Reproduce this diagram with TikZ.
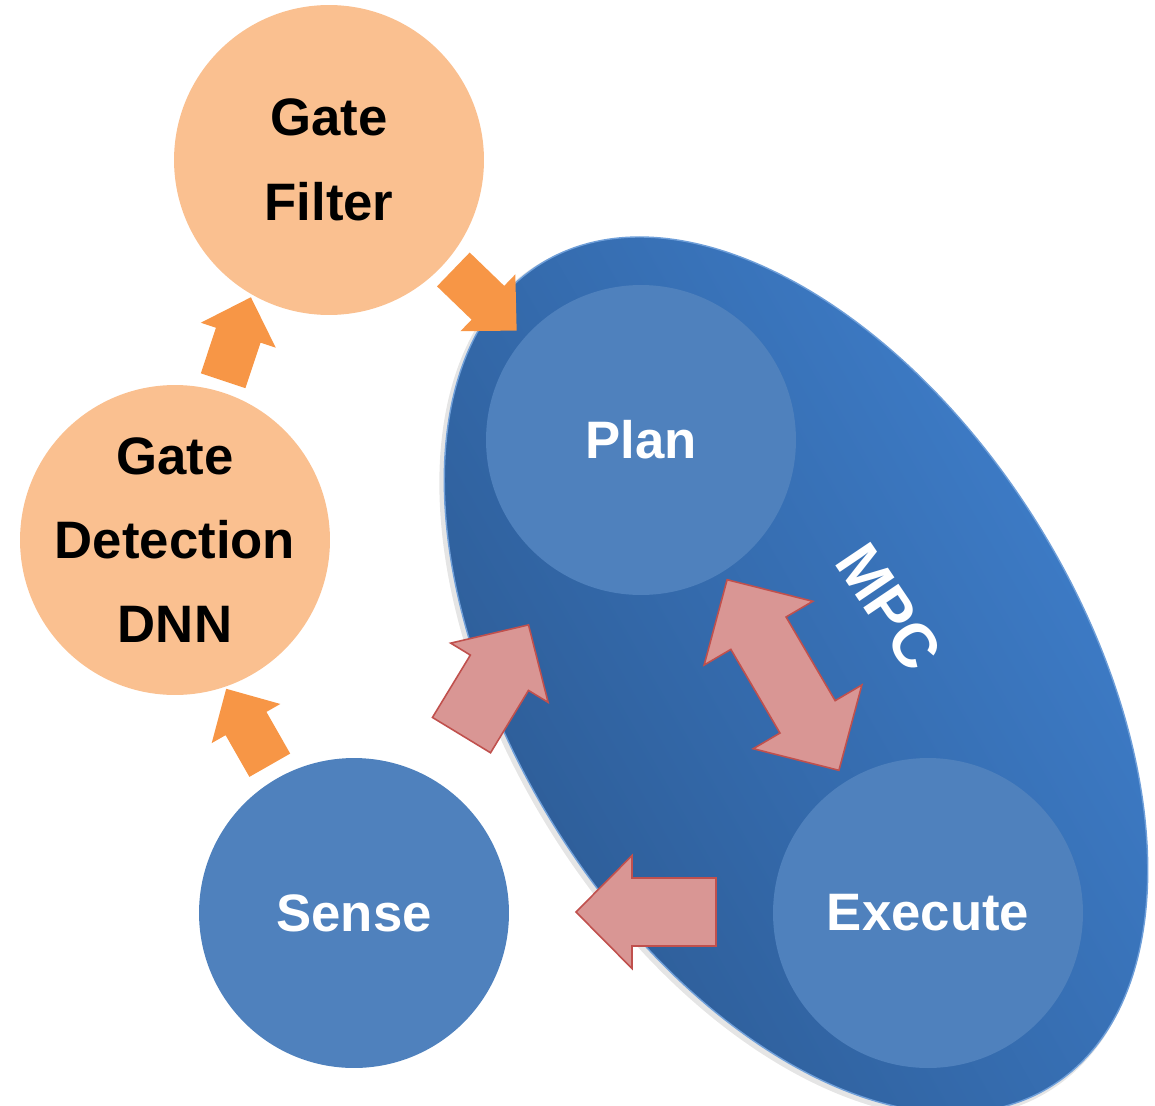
\documentclass[tikz,border=0pt]{standalone}
\usepackage{fontspec}
\setmainfont{Liberation Sans}
\usetikzlibrary{positioning}

\definecolor{gateorange}{HTML}{FAC090}
\definecolor{arroworange}{HTML}{F79646}
\definecolor{stepblue}{HTML}{4F81BD}
\definecolor{arrowpink}{HTML}{D99694}
\definecolor{arrowred}{HTML}{C0504D}
\definecolor{mpclight}{HTML}{3F7FCC}
\definecolor{mpcdark}{HTML}{2C5A93}

\begin{document}
\begin{tikzpicture}[x=0.02cm, y=-0.02cm]

   %Styles of circles and arrows
   \tikzstyle{gatestep} = [circle, minimum size=6.2cm, inner sep=-12pt, align=center, fill=gateorange, text=black, font=\bfseries\fontsize{30}{48}\selectfont]
   \tikzstyle{loopstep} = [gatestep, fill=stepblue, text=white]
   \tikzstyle{orangearrow} = [fill=arroworange]
   \tikzstyle{pinkarrow} = [fill=arrowpink, draw=arrowred, line width=0.9pt, line join=miter]
   \tikzset{
     pics/blockarrow/.style args={#1/#2/#3/#4}{code={
       \path[pic actions] (-#1/2,-#2/2) -- (#1/2-#4,-#2/2) -- (#1/2-#4,-#3/2) -- (#1/2,0)
         -- (#1/2-#4,#3/2) -- (#1/2-#4,#2/2) -- (-#1/2,#2/2) -- cycle;
     }},
     pics/doublearrow/.style args={#1/#2/#3/#4}{code={
       \path[pic actions] (-#1/2+#4,-#2/2) -- (#1/2-#4,-#2/2) -- (#1/2-#4,-#3/2) -- (#1/2,0)
         -- (#1/2-#4,#3/2) -- (#1/2-#4,#2/2) -- (-#1/2+#4,#2/2) -- (-#1/2+#4,#3/2)
         -- (-#1/2,0) -- (-#1/2+#4,-#3/2) -- cycle;
     }}
   }

   %Page size
   \clip (0,0) rectangle (1155,1105);

   %MPC ellipse with a soft shadow
   \fill[black, opacity=0.1, rotate around={-58.2:(793,678)}] (793,678) ellipse [x radius=486, y radius=287];
   \shade[rotate around={-58.2:(796,675)}, left color=mpcdark, right color=mpclight, shading angle=120, draw=mpclight!75!white, line width=0.8pt]
     (796,675) ellipse [x radius=484, y radius=285];
   \node[rotate=-56, text=white, font=\bfseries\fontsize{35}{36}\selectfont] (mpc) at (889,607) {MPC};

   %Circles
   \node[gatestep] (filter) at (329,160) {Gate\\Filter};
   \node[gatestep] (dnn) at (175,540) {Gate\\Detection\\DNN};
   \node[loopstep] (plan) at (641,440) {Plan};
   \node[loopstep] (execute) at (928,913) {Execute};
   \node[loopstep] (sense) at (354,913) {Sense};

   %Arrows
   \pic[orangearrow, rotate=71.6] at (237,339) {blockarrow=88/47/79/40};
   \pic[orangearrow, rotate=119.7] at (248,727) {blockarrow=88/47/79/40};
   \pic[orangearrow, rotate=-44] at (485,300) {blockarrow=88/47/79/40};
   \pic[pinkarrow, rotate=58.7] at (495,680) {blockarrow=129/68/114/56};
   \pic[pinkarrow, rotate=120.4] at (783,675) {doublearrow=221/64/126/62};
   \pic[pinkarrow, rotate=180] at (646,912) {blockarrow=140/68/113/56};

\end{tikzpicture}
\end{document}
